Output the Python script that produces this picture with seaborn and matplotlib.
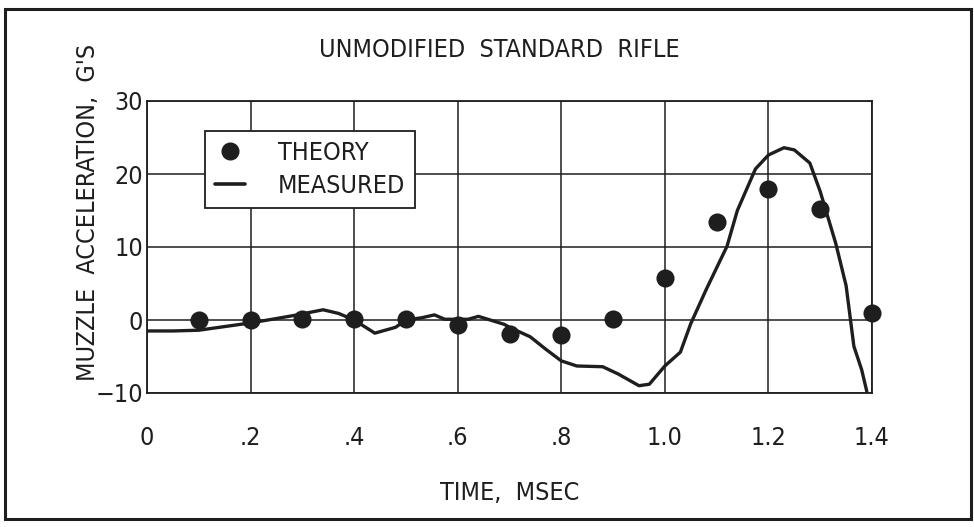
import numpy as np
import pandas as pd
import matplotlib
matplotlib.use("Agg")
import matplotlib.pyplot as plt
from matplotlib.lines import Line2D
from matplotlib.patches import Rectangle
import seaborn as sns

# theory points (every 0.1 msec)
theory_t = [0.1, 0.2, 0.3, 0.4, 0.5, 0.6, 0.7, 0.8, 0.9, 1.0, 1.1, 1.2, 1.3, 1.4]
theory_g = [0.0, 0.0, 0.1, 0.1, 0.1, -0.7, -1.9, -2.1, 0.1, 5.8, 13.4, 18.0, 15.2, 0.9]

# measured trace
measured_t = [0.00, 0.05, 0.10, 0.15, 0.20, 0.25, 0.29, 0.34, 0.37, 0.40, 0.44, 0.48,
              0.50, 0.53, 0.555, 0.575, 0.62, 0.64, 0.69, 0.70, 0.74, 0.77, 0.80, 0.83,
              0.88, 0.91, 0.95, 0.97, 1.00, 1.03, 1.05, 1.08, 1.12, 1.14, 1.175, 1.20,
              1.23, 1.25, 1.28, 1.30, 1.33, 1.35, 1.365, 1.38, 1.39]
measured_g = [-1.5, -1.5, -1.4, -0.9, -0.4, 0.2, 0.7, 1.4, 0.9, 0.0, -1.8, -1.0,
              0.0, 0.3, 0.7, 0.1, 0.1, 0.5, -0.6, -1.0, -2.3, -4.0, -5.6, -6.3,
              -6.4, -7.4, -9.0, -8.8, -6.3, -4.4, -0.5, 4.2, 10.1, 15.0, 20.7, 22.6,
              23.6, 23.3, 21.5, 17.6, 10.5, 4.7, -3.6, -6.8, -9.8]

xticks = [0, 0.2, 0.4, 0.6, 0.8, 1.0, 1.2, 1.4]
xtick_labels = ["0", ".2", ".4", ".6", ".8", "1.0", "1.2", "1.4"]
yticks = [-10, 0, 10, 20, 30]
ytick_labels = ["\u221210", "0", "10", "20", "30"]

theory = pd.DataFrame({"t": theory_t, "g": theory_g})
measured = pd.DataFrame({"t": measured_t, "g": measured_g})

sns.set_style("white")
plt.rcParams["font.family"] = ["DejaVu Sans"]
plt.rcParams["font.stretch"] = "condensed"
ink = "#1e1e1e"
fs = 18

fig = plt.figure(figsize=(9.74, 5.27), dpi=100)
ax = fig.add_axes([147 / 974, 1 - 393 / 527, 725 / 974, 292 / 527])

sns.lineplot(data=measured, x="t", y="g", ax=ax, sort=False, estimator=None,
             color=ink, linewidth=2.4, zorder=3)
sns.scatterplot(data=theory, x="t", y="g", ax=ax, color=ink, s=170,
                edgecolor=ink, linewidth=0, zorder=4, clip_on=False)

ax.set_xlim(0, 1.4)
ax.set_ylim(-10, 30)
ax.set_xticks(xticks)
ax.set_xticklabels(xtick_labels)
ax.set_yticks(yticks)
ax.set_yticklabels(ytick_labels)
ax.tick_params(axis="x", length=0, pad=24, labelsize=fs, colors=ink)
ax.tick_params(axis="y", length=0, pad=3, labelsize=fs, colors=ink)
ax.grid(True, color=ink, linewidth=1.1)
ax.set_axisbelow(True)
for sp in ax.spines.values():
    sp.set_visible(True)
    sp.set_color(ink)
    sp.set_linewidth(1.3)
ax.set_xlabel("TIME,  MSEC", fontsize=fs, color=ink, labelpad=22)
ax.set_ylabel("")

handles = [Line2D([], [], marker="o", linestyle="none", color=ink, markersize=12),
           Line2D([], [], color=ink, linewidth=2.6)]
leg = ax.legend(handles, ["THEORY", "MEASURED"], loc="upper left",
                bbox_to_anchor=(0.08, 0.897), borderaxespad=0, fontsize=fs,
                frameon=True, fancybox=False, framealpha=1, edgecolor=ink,
                handlelength=1.2, handletextpad=1.3, labelspacing=0.35,
                borderpad=0.4)
leg.get_frame().set_linewidth(1.3)
for txt in leg.get_texts():
    txt.set_color(ink)

fig.text(499 / 974, 1 - 50 / 527, "UNMODIFIED  STANDARD  RIFLE", ha="center",
         va="center", fontsize=fs, color=ink)
fig.text(88 / 974, 1 - 212 / 527, "MUZZLE  ACCELERATION,  G'S", ha="center",
         va="center", rotation=90, fontsize=fs, color=ink)

fig.patches.append(Rectangle((5 / 974, 1 - 519 / 527), 966 / 974, 510 / 527,
                             transform=fig.transFigure, fill=False,
                             edgecolor=ink, linewidth=2.2))

fig.savefig("out.png", dpi=100)
